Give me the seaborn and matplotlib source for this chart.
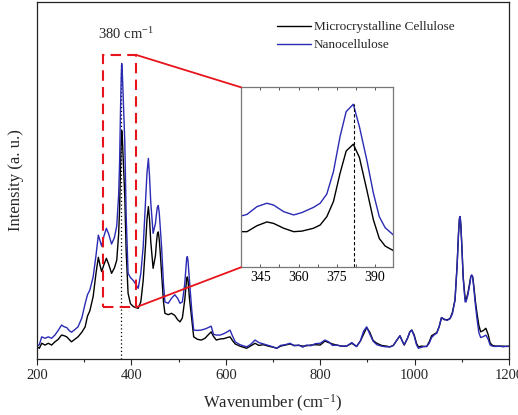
import numpy as np
import pandas as pd
import matplotlib
matplotlib.use('Agg')
import matplotlib.pyplot as plt
from matplotlib.patches import Rectangle, ConnectionPatch
from matplotlib.ticker import MultipleLocator, NullLocator
import seaborn as sns

# Raman spectra (intensity on a 0-100 scale)
wavenumber = [200, 205, 210, 217, 224, 231, 238, 245, 252, 258, 263, 268, 273, 280, 287,
              295, 302, 307, 312, 319, 325, 330, 334, 337, 342, 347, 352, 358, 364, 369,
              373, 375, 377, 378.5, 379.5, 381, 383, 386, 389, 393, 398, 404, 409, 414.5,
              420, 425, 430, 433, 436, 438.5, 441, 446, 451, 453, 455, 457, 459, 461, 464,
              468, 471, 478, 485, 492, 498, 503, 508, 513, 515, 517, 518.5, 520, 523, 528,
              532, 540, 548, 556, 563, 569, 574, 580, 588, 596, 603,
              609, 614, 620, 630, 637, 644, 652, 662, 670, 680, 690, 700, 708, 716, 726,
              736, 745, 755, 763, 771, 780, 790, 800, 810, 818, 826, 835, 845, 856, 867,
              877, 885, 892, 898.5, 905, 912, 920, 930, 940, 948, 955, 962, 969, 974, 978,
              985, 990, 994, 999, 1004, 1008, 1015, 1020, 1025.6, 1031, 1036, 1042, 1047,
              1052, 1057, 1063, 1069, 1075, 1080, 1085.6, 1090, 1093, 1095, 1096.5, 1098,
              1100, 1103, 1107, 1109, 1113, 1117, 1119, 1121, 1123, 1125, 1129, 1132, 1136,
              1140, 1146, 1151, 1156, 1160, 1165, 1172, 1180, 1188, 1195, 1200]

mcc = [3.4, 3.0, 4.4, 3.9, 4.4, 3.9, 4.8, 5.5, 6.7, 6.5, 6.2, 5.5, 4.8, 5.5, 6.2,
       7.5, 9.0, 12.0, 13.5, 17.5, 24.0, 28.5, 26.0, 24.5, 26.5, 28.2, 26.5, 24.0, 25.5, 27.7,
       35.0, 42.0, 54.0, 61.0, 64.0, 61.5, 55.0, 45.5, 30.0, 18.4, 15.5, 14.7, 14.4, 14.2,
       16.0, 22.0, 32.0, 39.0, 42.7, 39.0, 33.0, 25.4, 29.0, 32.5, 35.0, 35.6, 33.5, 30.0, 24.0,
       16.0, 12.8, 12.4, 12.8, 12.2, 11.0, 10.4, 11.5, 16.5, 19.5, 22.3, 23.0, 22.0, 17.0, 11.0,
       6.2, 5.5, 5.3, 5.8, 6.8, 7.6, 6.3, 5.3, 5.6, 5.7, 6.0,
       6.2, 5.2, 4.2, 3.6, 3.3, 3.0, 3.6, 4.4, 3.8, 4.0, 3.6, 3.3, 3.0, 3.6, 3.9,
       4.2, 3.8, 3.8, 3.6, 3.7, 3.9, 4.0, 3.9, 5.0, 4.6, 4.2, 3.9, 3.6, 3.6, 4.4,
       3.5, 5.0, 7.0, 8.8, 7.5, 5.2, 4.4, 3.8, 3.6, 3.4, 3.8, 5.2, 6.5, 5.0, 3.9,
       5.8, 7.6, 8.1, 6.8, 4.4, 3.4, 3.6, 3.5, 3.5, 4.8, 6.5, 7.0, 7.4,
       9.0, 11.6, 11.0, 11.0, 11.3, 13.0, 16.5, 26.0, 35.0, 39.3, 39.9, 37.5,
       32.0, 23.0, 17.0, 16.5, 18.5, 21.5, 23.0, 23.5, 23.0, 21.0, 16.0, 13.0, 9.5,
       7.6, 8.0, 8.6, 6.8, 4.5, 3.8, 3.6, 3.6, 3.6, 3.5, 3.6]

nano = [3.6, 4.0, 6.2, 5.8, 6.2, 5.8, 6.7, 8.0, 9.5, 9.0, 8.8, 8.0, 7.5, 8.2, 9.0,
        11.5, 15.5, 18.0, 19.3, 23.0, 29.0, 34.7, 33.0, 31.6, 34.5, 36.6, 35.0, 32.2, 34.0, 37.3,
        46.0, 55.0, 70.0, 79.0, 82.8, 79.5, 72.0, 61.0, 40.0, 24.0, 22.8, 22.0, 21.0, 19.8,
        24.0, 31.4, 44.0, 52.0, 56.2, 51.0, 44.0, 35.2, 38.0, 40.5, 42.5, 43.0, 41.0, 37.0, 31.4,
        21.0, 16.0, 15.6, 17.0, 18.0, 17.0, 15.6, 16.0, 21.0, 24.5, 28.0, 28.7, 27.5, 22.0, 13.5,
        8.1, 8.0, 8.1, 8.4, 8.8, 9.2, 6.9, 6.7, 6.7, 7.1, 7.6,
        8.1, 6.5, 4.8, 4.0, 3.7, 3.4, 4.0, 5.3, 4.6, 4.2, 3.8, 3.4, 3.0, 3.8, 4.0,
        4.4, 3.7, 3.9, 3.3, 3.9, 3.7, 4.3, 4.4, 5.3, 4.8, 3.8, 3.9, 3.6, 3.6, 4.6,
        3.5, 5.0, 7.8, 9.0, 7.0, 5.0, 4.0, 3.6, 3.4, 3.4, 3.8, 5.2, 6.5, 5.0, 4.0,
        5.8, 7.6, 8.1, 6.5, 4.0, 3.0, 3.3, 3.5, 3.5, 4.4, 6.0, 6.8, 7.2,
        9.0, 11.6, 11.2, 10.8, 11.3, 12.6, 16.5, 26.0, 35.0, 39.3, 39.9, 37.5,
        32.0, 22.5, 16.0, 16.0, 18.0, 21.0, 23.0, 23.5, 23.0, 20.5, 15.0, 11.5, 7.5,
        6.0, 6.3, 6.7, 5.5, 3.9, 3.6, 3.5, 3.6, 3.4, 3.6, 3.5]

# inset (zoom on the 380 cm-1 band), own intensity scale
inset_wn = [337.5, 339.8, 343.7, 347.6, 350.2, 354.2, 358.1, 361.3, 365.9, 368.5,
            371.1, 373.7, 376.3, 378.7, 381.5, 383.9, 386.8, 389.4, 391.7, 394.0, 397.2]
inset_mcc = [19.8, 19.8, 23.1, 25.2, 24.4, 21.7, 19.8, 20.1, 21.7, 23.5,
             28.1, 36.5, 52.2, 64.6, 68.4, 61.0, 43.0, 26.3, 16.0, 11.8, 9.3]
inset_nano = [28.5, 29.4, 33.7, 35.6, 34.6, 30.9, 29.1, 30.4, 33.3, 35.6,
              40.7, 53.1, 72.6, 86.5, 90.6, 78.1, 59.6, 41.1, 28.1, 22.0, 18.0]

peak_main = 379
peak_inset = 381.6
labels = ['Microcrystalline Cellulose', 'Nanocellulose']
colors = ['#000000', '#2a2ab4']

sns.set_style("ticks")
plt.rcParams['font.family'] = ['Liberation Serif', 'DejaVu Serif']
plt.rcParams['mathtext.default'] = 'regular'

df = pd.DataFrame({'wn': wavenumber * 2,
                   'I': mcc + nano,
                   'sample': [labels[0]] * len(mcc) + [labels[1]] * len(nano)})
df_in = pd.DataFrame({'wn': inset_wn * 2,
                      'I': inset_mcc + inset_nano,
                      'sample': [labels[0]] * len(inset_mcc) + [labels[1]] * len(inset_nano)})

fig = plt.figure(figsize=(5.18, 4.15), dpi=100)
ax = fig.add_axes([0.0714, 0.135, 0.9112, 0.860])

sns.lineplot(data=df, x='wn', y='I', hue='sample', palette=colors, estimator=None,
             sort=False, linewidth=1.0, ax=ax)
for ln in ax.get_lines():
    ln.set_solid_joinstyle('round')

ax.set_xlim(200, 1200)
ax.set_ylim(0, 100)
ax.xaxis.set_major_locator(MultipleLocator(200))
ax.xaxis.set_minor_locator(MultipleLocator(100))
ax.yaxis.set_major_locator(NullLocator())
ax.tick_params(axis='x', which='major', direction='out', length=4, width=0.8, labelsize=10.5, pad=3)
ax.tick_params(axis='x', which='minor', direction='out', length=2.5, width=0.8)
for s in ax.spines.values():
    s.set_linewidth(0.9)
    s.set_color('#222222')
ax.set_xlabel('Wavenumber (cm$^{-1}$)', fontsize=12, labelpad=8)
ax.set_ylabel('Intensity (a. u.)', fontsize=12, labelpad=9)

leg = ax.legend(loc='upper left', bbox_to_anchor=(0.483, 0.98), frameon=False,
                fontsize=9.5, handlelength=2.6, handletextpad=0.2, labelspacing=0.45)

# dotted marker at the main band
ax.vlines(peak_main, 0, max(nano), colors='black', linestyles=(0, (1, 2)), linewidth=0.9, zorder=1)
ax.text(388, 91, '380 cm$^{-1}$', ha='center', va='center', fontsize=10.5)

# red dashed zoom box
rect = Rectangle((340.5, 14.5), 69.5, 70.7, fill=False, edgecolor='#e8141c',
                 linestyle=(0, (5, 3)), linewidth=1.5, zorder=5)
ax.add_patch(rect)

# inset
axin = fig.add_axes([0.4653, 0.3559, 0.2940, 0.4337])
sns.lineplot(data=df_in, x='wn', y='I', hue='sample', palette=colors, estimator=None,
             sort=False, linewidth=1.0, ax=axin, legend=False)
axin.set_xlim(337.45, 397.2)
axin.set_ylim(0, 100)
axin.xaxis.set_major_locator(MultipleLocator(15))
axin.xaxis.set_minor_locator(MultipleLocator(7.5))
axin.yaxis.set_major_locator(NullLocator())
axin.tick_params(axis='x', which='both', direction='in', top=True, length=2.5, width=0.7,
                 labelsize=10, pad=3, colors='#555555', labelcolor='black')
axin.set_xlabel('')
axin.set_ylabel('')
for s in axin.spines.values():
    s.set_linewidth(0.9)
    s.set_color('#777777')
axin.vlines(peak_inset, 0, max(inset_nano), colors='black', linestyles=(0, (3, 2)), linewidth=0.8)

# connector lines from the box to the inset
for yb, ya in [(85.2, 1.0), (14.5, 0.0)]:
    con = ConnectionPatch(xyA=(410, yb), coordsA=ax.transData,
                          xyB=(0, ya), coordsB=axin.transAxes,
                          color='#e8141c', linewidth=1.3)
    fig.add_artist(con)

fig.savefig('out.png', dpi=100)
